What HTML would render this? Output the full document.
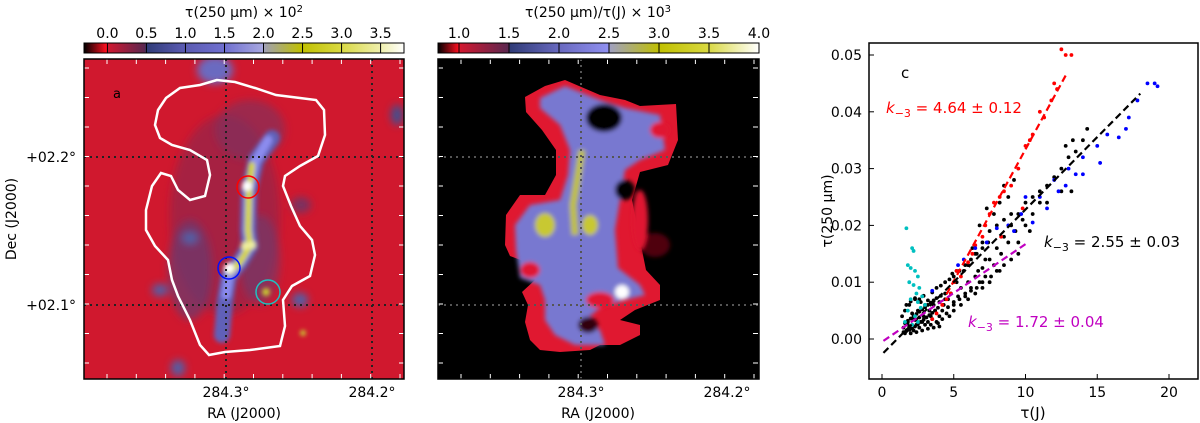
<!DOCTYPE html>
<html><head><meta charset="utf-8">
<style>
html,body{margin:0;padding:0;background:#fff;}
svg{display:block;font-family:"DejaVu Sans","Liberation Sans",sans-serif;}
</style></head>
<body>
<svg id="fig" width="1200" height="423" viewBox="0 0 1200 423">
<defs>
  <filter id="blur4" x="-50%" y="-50%" width="200%" height="200%"><feGaussianBlur stdDeviation="4"/></filter>
  <filter id="blur2" x="-50%" y="-50%" width="200%" height="200%"><feGaussianBlur stdDeviation="2"/></filter>
  <clipPath id="clipA"><rect x="84" y="59" width="320" height="320"/></clipPath>
  <clipPath id="clipB"><rect x="438" y="59" width="321" height="320"/></clipPath>
  <linearGradient id="cbA" x1="0" x2="1" y1="0" y2="0">
    <stop offset="0" stop-color="#000"/><stop offset="0.07" stop-color="#ff1020"/>
    <stop offset="0.075" stop-color="#d01830"/><stop offset="0.19" stop-color="#5a2850"/>
    <stop offset="0.195" stop-color="#303c78"/><stop offset="0.31" stop-color="#5a5ab0"/>
    <stop offset="0.44" stop-color="#7070d0"/><stop offset="0.56" stop-color="#a8a8e0"/>
    <stop offset="0.565" stop-color="#a0a0b0"/><stop offset="0.68" stop-color="#c0c000"/>
    <stop offset="0.80" stop-color="#d8d840"/><stop offset="0.93" stop-color="#f0f0b0"/>
    <stop offset="1" stop-color="#ffffff"/>
  </linearGradient>
  <linearGradient id="cbB" x1="0" x2="1" y1="0" y2="0">
    <stop offset="0" stop-color="#000"/><stop offset="0.065" stop-color="#ff1020"/>
    <stop offset="0.07" stop-color="#d01830"/><stop offset="0.22" stop-color="#5a2850"/>
    <stop offset="0.225" stop-color="#303c78"/><stop offset="0.38" stop-color="#6a6ac0"/>
    <stop offset="0.53" stop-color="#9090f0"/><stop offset="0.535" stop-color="#a0a0c0"/>
    <stop offset="0.69" stop-color="#c0c000"/><stop offset="0.84" stop-color="#d8d840"/>
    <stop offset="1" stop-color="#ffffff"/>
  </linearGradient>
</defs>

<!-- ===== Panel a ===== -->
<g>
  <text x="244" y="17" font-size="14" text-anchor="middle">τ(250 μm) × 10<tspan font-size="10" dy="-5">2</tspan></text>
  <rect x="84" y="43" width="320" height="10" fill="url(#cbA)" stroke="#000" stroke-width="1"/>
  <g id="cbAticks"></g>
  <g clip-path="url(#clipA)">
    <rect x="84" y="59" width="320" height="320" fill="#d0182e"/>
    <g filter="url(#blur4)">
      <ellipse cx="225" cy="215" rx="55" ry="100" fill="#8a2a50" opacity="0.6"/>
      <ellipse cx="190" cy="270" rx="22" ry="50" fill="#6a3a70" opacity="0.7"/>
      <ellipse cx="260" cy="260" rx="20" ry="45" fill="#6a3a70" opacity="0.6"/>
      <ellipse cx="215" cy="70" rx="18" ry="14" fill="#6a6ac0"/>
      <ellipse cx="250" cy="130" rx="35" ry="30" fill="#7a3060" opacity="0.6"/>
      <ellipse cx="300" cy="300" rx="8" ry="7" fill="#5060a8"/>
      <ellipse cx="160" cy="290" rx="8" ry="6" fill="#5060a8"/>
      <ellipse cx="178" cy="368" rx="7" ry="8" fill="#5060a8"/>
      <ellipse cx="190" cy="238" rx="8" ry="6" fill="#5060a8"/>
      <ellipse cx="397" cy="115" rx="6" ry="10" fill="#405090"/>
      <ellipse cx="301" cy="205" rx="10" ry="8" fill="#7a3060"/>
    </g>
    <g filter="url(#blur2)">
      <path d="M272,138 L256,160 L249,190 L248,230 L250,246 L240,262 L229,276 L225,300 L222,335" stroke="#6060b8" stroke-width="16" fill="none" stroke-linecap="round"/>
      <path d="M268,140 L255,162 L249,190 L248,230 L250,246 L240,262 L229,276 L226,295" stroke="#8c8cf0" stroke-width="9" fill="none" stroke-linecap="round"/>
      <path d="M252,165 L249,190 L248,230 L250,246 L240,262 L230,272" stroke="#d8d820" stroke-width="6" fill="none" stroke-linecap="round"/>
      <circle cx="247" cy="186" r="5" fill="#fff"/>
      <circle cx="229" cy="268" r="5" fill="#fff"/>
      <circle cx="245" cy="246" r="4" fill="#f0f0a0"/>
      <circle cx="252" cy="245" r="4" fill="#f0f0a0"/>
      <circle cx="266" cy="292" r="4" fill="#c8c830"/>
      <circle cx="303" cy="333" r="3" fill="#c8c830"/>
    </g>
    <g stroke="#222" stroke-width="2" stroke-dasharray="2,4" fill="none">
      <line x1="226" y1="59" x2="226" y2="379"/><line x1="372" y1="59" x2="372" y2="379"/>
      <line x1="84" y1="157" x2="404" y2="157"/><line x1="84" y1="305" x2="404" y2="305"/>
    </g>
    <polygon fill="none" stroke="#fff" stroke-width="2.5" points="217,80 200,85 180,88 166,98 158,110 155,125 160,138 172,145 190,150 207,160 210,175 205,196 190,200 178,190 171,176 161,173 152,186 146,210 146,230 155,246 168,260 172,280 178,296 190,320 200,345 209,355 225,352 250,350 280,346 285,326 283,300 292,286 310,276 315,255 312,240 300,226 291,206 283,186 285,176 300,166 318,156 325,135 324,110 316,100 300,98 276,95 255,88 235,82"/>
    <circle cx="248" cy="187" r="11" fill="none" stroke="#f00" stroke-width="1.5"/>
    <circle cx="229" cy="268" r="11" fill="none" stroke="#0010ff" stroke-width="1.5"/>
    <circle cx="268" cy="292" r="12" fill="none" stroke="#20c0c0" stroke-width="1.5"/>
    <text x="113" y="98" font-size="13">a</text>
    <g id="ticksA" stroke="#fff" stroke-width="1"></g>
  </g>
  <rect x="84" y="59" width="320" height="320" fill="none" stroke="#000" stroke-width="1.5"/>
  <text x="76" y="162" font-size="14" text-anchor="end">+02.2°</text>
  <text x="76" y="310" font-size="14" text-anchor="end">+02.1°</text>
  <text x="226" y="397" font-size="14" text-anchor="middle">284.3°</text>
  <text x="372" y="397" font-size="14" text-anchor="middle">284.2°</text>
  <text x="244" y="418" font-size="14" text-anchor="middle">RA (J2000)</text>
  <text transform="translate(16,219) rotate(-90)" font-size="14" text-anchor="middle">Dec (J2000)</text>
</g>

<!-- ===== Panel b ===== -->
<g>
  <text x="598" y="17" font-size="14" text-anchor="middle">τ(250 μm)/τ(J)  × 10<tspan font-size="10" dy="-5">3</tspan></text>
  <rect x="438" y="43" width="321" height="10" fill="url(#cbB)" stroke="#000" stroke-width="1"/>
  <g id="cbBticks"></g>
  <g clip-path="url(#clipB)">
    <rect x="438" y="59" width="321" height="320" fill="#000"/>
    <polygon fill="#e01830" points="525,97 545,86 565,80 600,95 625,100 640,106 676,104 678,140 668,165 640,172 632,200 640,240 646,270 660,285 660,300 635,310 620,320 640,325 640,335 620,345 600,345 590,350 560,352 540,350 530,340 525,322 528,305 522,292 535,280 526,262 510,256 505,245 506,215 520,195 545,195 556,175 556,150 542,130 526,112"/>
    <g filter="url(#blur2)">
      <polygon fill="#7878d0" points="540,98 565,86 600,100 625,108 660,115 665,150 640,160 625,170 615,230 618,268 640,285 645,295 625,300 600,308 585,320 600,330 605,345 575,345 555,335 545,320 545,300 540,285 520,278 516,250 515,225 530,205 560,200 568,175 570,150 560,125 540,108"/>
      <path d="M582,150 L578,175 L573,205 L575,235" stroke="#c0c040" stroke-width="7" fill="none"/>
      <ellipse cx="545" cy="225" rx="10" ry="12" fill="#c8c830"/>
      <ellipse cx="590" cy="225" rx="8" ry="10" fill="#c8c830"/>
      <circle cx="622" cy="292" r="7" fill="#fff"/>
      <ellipse cx="604" cy="118" rx="18" ry="14" fill="#000"/>
      <ellipse cx="625" cy="190" rx="10" ry="10" fill="#000"/>
      <ellipse cx="655" cy="245" rx="15" ry="12" fill="#500010"/>
      <ellipse cx="588" cy="325" rx="10" ry="8" fill="#300010"/>
      <ellipse cx="660" cy="130" rx="10" ry="8" fill="#e01830"/>
      <ellipse cx="640" cy="220" rx="8" ry="30" fill="#e01830"/>
      <ellipse cx="600" cy="300" rx="14" ry="8" fill="#e01830"/>
      <ellipse cx="530" cy="270" rx="10" ry="8" fill="#e01830"/>
    </g>
    <g stroke="#555" stroke-width="2" stroke-dasharray="2,4" fill="none">
      <line x1="581" y1="59" x2="581" y2="379"/><line x1="438" y1="305" x2="759" y2="305"/>
      <line x1="438" y1="157" x2="759" y2="157"/>
    </g>
    <g id="ticksB" stroke="#fff" stroke-width="1"></g>
  </g>
  <rect x="438" y="59" width="321" height="320" fill="none" stroke="#000" stroke-width="1.5"/>
  <text x="581" y="397" font-size="14" text-anchor="middle">284.3°</text>
  <text x="727" y="397" font-size="14" text-anchor="middle">284.2°</text>
  <text x="598" y="418" font-size="14" text-anchor="middle">RA (J2000)</text>
</g>

<!-- ===== Panel c ===== -->
<g id="scatter"></g>
</svg>

<script>
// ---- colorbar data ----
const cbATicks = ["0.0","0.5","1.0","1.5","2.0","2.5","3.0","3.5"];
const cbAVals = [0,0.5,1,1.5,2,2.5,3,3.5];
const cbBTicks = ["1.0","1.5","2.0","2.5","3.0","3.5","4.0"];
const cbBVals = [1,1.5,2,2.5,3,3.5,4];

// ---- scatter data (x = tau(J), y = tau(250um) * 1000) ----
const blackX = [1.5,1.7,1.8,2,2.2,2.4,2.6,2.8,3,3.2,3.5,3.8,4,4.2,4.5,1.4,1.6,1.9,2.1,2.5,2.9,3.3,3.6,3.9,4.3,4.6,5,5.3,5.5,5.8,6,6.2,6.5,6.8,7,7.2,7.5,7.8,8,8.3,8.5,8.8,9,9.3,9.5,9.8,10,10.5,11,11.5,12,12.5,13,13.5,14,14.3,13.3,12.8,11,10,9.5,9,8.5,8,7.5,7,6.5,6,5.5,5,4.7,6,6.5,7,7.5,7.8,8.2,8.8,9.2,8.5,7.3,6.8,6.3,5.7,5.2,4.8,4.4,4,3.7,3.4,8,8.5,9,9.5,10.5,11.5,12.5,13.2,10.3,7.2,6.7,3,2.7,2.3,5.2,4.9,1.6,2,2.4,2.8,3.2,3.6,4,1.8,2.2,2.6,3.4,3.9,
  1.5,1.7,1.9,2.1,2.3,2.5,2.7,2.9,3.1,3.3,3.5,3.7,1.6,1.8,2.0,2.2,2.4,2.6,2.8,3.0,3.2,3.4,3.6,3.8,4.1,4.4,1.7,2.0,2.3,2.6,2.9,3.2,3.5,3.8,4.1,4.4,4.7,5.0,5.4,5.8,6.2,6.6,7.0,7.4,4.2,4.6,5.0,5.4,5.8,6.2,6.6,7.0,7.6,8.2];
const blackY = [2,1.5,3,2,1.5,2.5,2,3,2.5,3,3.5,3,4,3.5,4.5,4,5,6,4.5,5,4,5,6,5.5,6,7,6.5,7.5,9,8,10,9,11,10,12.5,11,14,13,16,15,18,17,20,19,22,21,24,25,26,27,28.5,30,32,33,35,37,35,34,24,20,17,14,13,12,10,9,8,7,6,5,4,13,15,17,19,22,24,25,28,27,23,20,16,12,10,8,7,6.5,5,4,20,21,22,15,22,24,26,26,19,14,12,6,6.5,7,12,11.5,1,1,1.2,1.5,1.8,2,2.2,2.5,3.5,3.8,2.5,2.8,
  1.2,1.4,1.6,1.8,2.2,2.6,3.0,3.4,3.8,4.2,4.6,5.0,2.8,3.2,3.6,4.0,4.4,4.8,5.2,5.6,6.0,6.4,6.8,7.2,7.6,8.0,6.0,6.6,7.2,7.0,7.6,6.8,8.2,9.0,9.4,10.0,10.5,11.0,12.0,13.0,14.0,15.0,16.0,17.0,5.0,5.6,6.0,7.0,7.5,8.5,9.0,10.0,11.0,12.0];
const redX = [3.5,3.8,4.2,4.5,4.8,5,5.2,5.5,6,6.3,6.5,7,7.2,7.5,7.8,8.2,8.5,9,9.5,10,10.3,10.5,11,11.3,11.8,12,12.2,12.5,12.8,13.2,9.8,8.3];
const redY = [3.5,4.5,6,7,8,10,12,11,13.5,15,16.5,18,20,22,24,25,26,27,30,34,35,36,40,39,42,45,44,51,50,50,23,18];
const blueX = [3.5,5.3,5.7,6.5,7.3,8,8.8,9.2,9.7,10,10.5,11,11.5,12,12.3,12.8,13,13.5,14,14,15,15.2,15.7,16.5,17,17.2,17.8,18.5,19,19.2];
const blueY = [8.5,13,14,16,17,19.5,20,19,22,25,20.5,25,23,28,26,27,30,29,32,29,34,31,36,35.5,37,39,42,45,45,44.5];
const cyanX = [1.7,2.1,2.2,1.8,2.0,2.3,2.5,1.9,2.2,2.6,2.4,2.8,2.0,2.5,1.8,2.3,2.7,3.0,1.6,2.1,2.5];
const cyanY = [19.5,16,15.5,13,12.5,12,11,10,9.5,9,8,7.5,7,6.5,5,4,5.5,6,3,2.5,3];
const xTicks = [0,5,10,15,20];
const yTicks = [0,0.01,0.02,0.03,0.04,0.05];
const yTickLabels = ["0.00","0.01","0.02","0.03","0.04","0.05"];
const fitSlopes = [4.64, 2.55, 1.72];
const fitIntercepts = [-0.0130, -0.0027, -0.0005];
const fitStart = [4.5, 0.1, 0.1];
const fitEnd = [12.8, 18.0, 10.0];

const NS = "http://www.w3.org/2000/svg";
function mk(tag, attrs, parent){const e=document.createElementNS(NS,tag);for(const k in attrs)e.setAttribute(k,attrs[k]);parent.appendChild(e);return e;}

function cb(gid, vals, labels, x0, x1, v0, v1, name){
  const g=document.getElementById(gid);
  vals.forEach((v,i)=>{
    const x=x0+(v-v0)/(v1-v0)*(x1-x0);
    const l=mk('line',{x1:x,x2:x,y1:43,y2:53,stroke:'#000','stroke-width':1},g);
    
    
    const t=mk('text',{x:x,y:38,'font-size':14,'text-anchor':'middle'},g);
    t.textContent=labels[i];
    
    
  });
}
cb('cbAticks', cbAVals, cbATicks, 84, 404, -0.3, 3.8, 'colorbar-a');
cb('cbBticks', cbBVals, cbBTicks, 438, 759, 0.79, 4.0, 'colorbar-b');

function mapTicks(gid, x0){
  const g=document.getElementById(gid);
  for(let i=0;i<11;i++){
    const x=x0+23+i*29.3;
    mk('line',{x1:x,x2:x,y1:59,y2:64},g); mk('line',{x1:x,x2:x,y1:374,y2:379},g);
  }
  for(let i=0;i<11;i++){
    const y=68+i*29.5;
    mk('line',{x1:x0,x2:x0+5,y1:y,y2:y},g); mk('line',{x1:x0+315,x2:x0+320,y1:y,y2:y},g);
  }
}
mapTicks('ticksA',84); mapTicks('ticksB',438);

const S=document.getElementById('scatter');
const L=869,R=1198,T=43,B=379;
const xs=v=>882+v*14.35;
const ys=v=>339-v*5680;
mk('rect',{x:L,y:T,width:R-L,height:B-T,fill:'#fff'},S);
function pts(X,Y,col,name){
  X.forEach((x,i)=>{
    const c=mk('circle',{cx:xs(x),cy:ys(Y[i]/1000),r:1.9,fill:col},S);
    
    
  });
}
pts(blackX,blackY,'#000','point-black');
pts(redX,redY,'#ff0000','point-red');
pts(blueX,blueY,'#0000ff','point-blue');
pts(cyanX,cyanY,'#00c0c0','point-cyan');
const fitCols=['#ff0000','#000','#c000c0'];
const fitNames=['fit-red','fit-black','fit-magenta'];
fitSlopes.forEach((s,i)=>{
  const a=fitStart[i], b=fitEnd[i];
  const l=mk('line',{x1:xs(a),y1:ys(a*s/1000+fitIntercepts[i]),x2:xs(b),y2:ys(b*s/1000+fitIntercepts[i]),stroke:fitCols[i],'stroke-width':2.2,'stroke-dasharray':'7,4'},S);
  
  
});
mk('rect',{x:L,y:T,width:R-L,height:B-T,fill:'none',stroke:'#000','stroke-width':1.5},S);
xTicks.forEach(v=>{
  const x=xs(v);
  mk('line',{x1:x,x2:x,y1:B,y2:B-5,stroke:'#000'},S);
  const t=mk('text',{x:x,y:397,'font-size':14,'text-anchor':'middle'},S);
  t.textContent=String(v);
  
  
});
yTicks.forEach((v,i)=>{
  const y=ys(v);
  mk('line',{x1:L,x2:L+5,y1:y,y2:y,stroke:'#000'},S);
  const t=mk('text',{x:862,y:y+5,'font-size':14,'text-anchor':'end'},S);
  t.textContent=yTickLabels[i];
  
  
});
function txt(x,y,s,col,name,anchor){
  const t=mk('text',{x:x,y:y,'font-size':15,fill:col,'text-anchor':anchor||'start'},S);
  t.innerHTML=s;
  
  
}
txt(901,78,'c','#000','panel-label-c');
txt(886,113,'<tspan font-style="italic">k</tspan><tspan font-size="11" dy="4">−3</tspan><tspan dy="-4"> = 4.64 ± 0.12</tspan>','#ff0000','fit-label-red');
txt(1044,247,'<tspan font-style="italic">k</tspan><tspan font-size="11" dy="4">−3</tspan><tspan dy="-4"> = 2.55 ± 0.03</tspan>','#000','fit-label-black');
txt(968,327,'<tspan font-style="italic">k</tspan><tspan font-size="11" dy="4">−3</tspan><tspan dy="-4"> = 1.72 ± 0.04</tspan>','#c000c0','fit-label-magenta');
txt(1033,418,'τ(J)','#000','x-axis-title','middle');
const yl=mk('text',{transform:'translate(832,211) rotate(-90)','font-size':14,'text-anchor':'middle'},S);
yl.textContent='τ(250 μm)';


</script>
</body></html>
